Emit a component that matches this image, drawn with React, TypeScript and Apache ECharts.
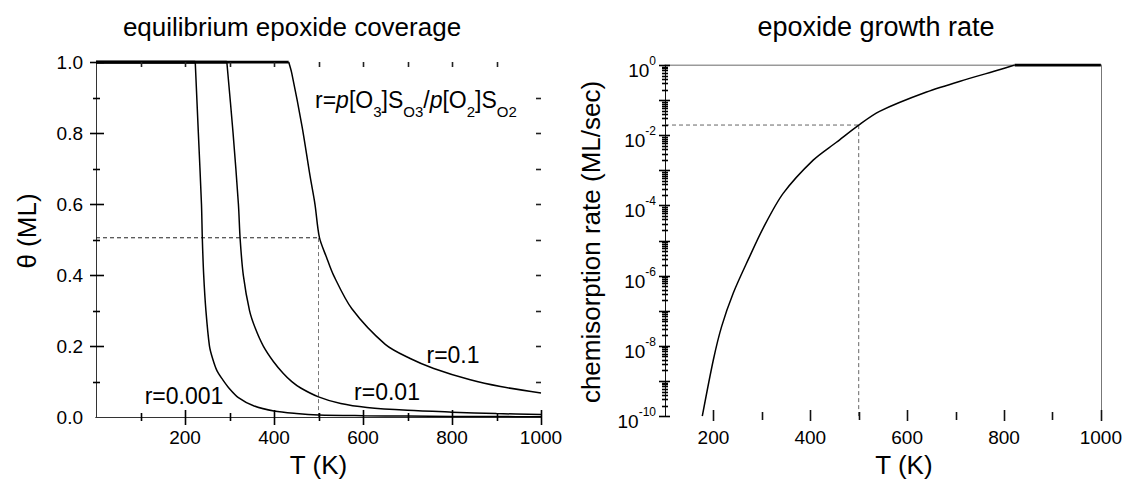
import React, { useEffect, useRef } from 'react';
import * as echarts from 'echarts';

const FONT = '"Liberation Sans", Arial, Helvetica, sans-serif';

// ---------- Left panel: equilibrium epoxide coverage ----------
const tempR0001 = [0, 223, 230, 237, 239, 242, 247, 255, 262, 272, 285, 300, 320, 354, 400, 450, 500, 600, 700, 800, 900, 1000];
const thetaR0001 = [1, 1, 0.8, 0.6, 0.5, 0.4, 0.3, 0.2, 0.165, 0.13, 0.105, 0.08, 0.055, 0.032, 0.017, 0.01, 0.006, 0.004, 0.003, 0.002, 0.0015, 0.001];

const tempR001 = [0, 294, 308, 320, 324, 331, 345, 358, 376, 399, 421, 440, 460, 500, 550, 609, 700, 800, 900, 1000];
const thetaR001 = [1, 1, 0.8, 0.6, 0.5, 0.4, 0.3, 0.25, 0.2, 0.156, 0.123, 0.1, 0.082, 0.057, 0.038, 0.027, 0.019, 0.014, 0.01, 0.007];

const tempR01 = [0, 433, 440, 463, 481, 492, 502, 518, 534, 575, 650, 706, 759, 841, 909, 1000];
const thetaR01 = [1, 1, 0.968, 0.819, 0.679, 0.6, 0.506, 0.45, 0.399, 0.305, 0.205, 0.165, 0.137, 0.105, 0.086, 0.068];

const coverageMarkT = 500;
const coverageMarkTheta = 0.505;

const coverageXMajorTicks = [200, 400, 600, 800, 1000];
const coverageXMinorTicks = [100, 300, 500, 700, 900];
const coverageTopTicks = [100, 200, 300, 400, 500, 600, 700, 800, 900];
const coverageYMajorTicks = [0.2, 0.4, 0.6, 0.8, 1.0];
const coverageYMinorTicks = [0.1, 0.3, 0.5, 0.7, 0.9];
const coverageRightTicks = [0.1, 0.2, 0.3, 0.4, 0.5, 0.6, 0.7, 0.8, 0.9];

// ---------- Right panel: epoxide growth rate ----------
const rateTemps = [177, 200, 217, 241, 272, 303, 344, 406, 454, 500, 543, 640, 722, 792, 822, 1000];
const rateValues = [1e-10, 4.1e-9, 3.6e-8, 3.2e-7, 2.9e-6, 2.3e-5, 2.2e-4, 1.95e-3, 6.3e-3, 1.95e-2, 4.8e-2, 0.17, 0.39, 0.74, 1, 1];

const rateMarkT = 500;
const rateMarkValue = 1.95e-2;

const rateXMajorTicks = [200, 400, 600, 800, 1000];
const rateXMinorTicks = [300, 500, 700, 900];
const rateDecadeExponents = [-10, -9, -8, -7, -6, -5, -4, -3, -2, -1, 0];
const rateMinorMultipliers = [2, 3, 4, 5, 6, 7, 8, 9];

function curve(xi: number, yi: number, xs: number[], ys: number[], width: number, smooth: number) {
  return {
    type: 'line',
    xAxisIndex: xi,
    yAxisIndex: yi,
    showSymbol: false,
    symbol: 'none',
    silent: true,
    smooth,
    lineStyle: { color: '#000', width },
    data: xs.map((x, i) => [x, ys[i]]),
    z: 4,
  };
}

// coverage curve: saturated part (thick, lying on the frame) + falling branch
function coverageCurve(xs: number[], ys: number[]) {
  const k = ys.lastIndexOf(1);
  return [
    curve(0, 0, xs.slice(0, k + 1), ys.slice(0, k + 1), 3, 0),
    curve(0, 0, xs.slice(k), ys.slice(k), 1.5, 0.3),
  ];
}

function dashed(xi: number, yi: number, pts: number[][], color: string) {
  return {
    type: 'line',
    xAxisIndex: xi,
    yAxisIndex: yi,
    showSymbol: false,
    symbol: 'none',
    silent: true,
    lineStyle: { color, width: 1, type: [4, 3] },
    data: pts,
    z: 3,
  };
}

export default function App() {
  const ref = useRef<HTMLDivElement>(null);

  useEffect(() => {
    document.body.style.margin = '0';
    if (!ref.current) return;
    const chart = echarts.init(ref.current, undefined, { renderer: 'svg' });

    const rateMinorTicks: number[] = [];
    rateDecadeExponents.slice(0, -1).forEach((d) => {
      rateMinorMultipliers.forEach((k) => rateMinorTicks.push(d + Math.log10(k)));
    });
    const rateLog = rateValues.map((v) => Math.log10(v));
    const kSat = rateValues.indexOf(1);

    const axisColor = '#111';
    const labelStyle = { fontFamily: FONT, fontSize: 19, color: '#000' };
    const nameStyle = { fontFamily: FONT, fontSize: 26, color: '#000' };

    const texts: any[] = [
      {
        type: 'text',
        x: 292,
        y: 27,
        style: { text: 'equilibrium epoxide coverage', font: `26px ${FONT}`, fill: '#000', align: 'center', verticalAlign: 'middle' },
      },
      {
        type: 'text',
        x: 876,
        y: 27,
        style: { text: 'epoxide growth rate', font: `27px ${FONT}`, fill: '#000', align: 'center', verticalAlign: 'middle' },
      },
      {
        type: 'text',
        x: 27,
        y: 231,
        rotation: Math.PI / 2,
        style: { text: 'θ (ML)', font: `26px ${FONT}`, fill: '#000', align: 'center', verticalAlign: 'middle' },
      },
      {
        type: 'text',
        x: 591,
        y: 242,
        rotation: Math.PI / 2,
        style: { text: 'chemisorption rate (ML/sec)', font: `26px ${FONT}`, fill: '#000', align: 'center', verticalAlign: 'middle' },
      },
      {
        type: 'text',
        x: 184,
        y: 396,
        style: { text: 'r=0.001', font: `23px ${FONT}`, fill: '#000', align: 'center', verticalAlign: 'middle' },
      },
      {
        type: 'text',
        x: 387,
        y: 392,
        style: { text: 'r=0.01', font: `23px ${FONT}`, fill: '#000', align: 'center', verticalAlign: 'middle' },
      },
      {
        type: 'text',
        x: 453,
        y: 355,
        style: { text: 'r=0.1', font: `23px ${FONT}`, fill: '#000', align: 'center', verticalAlign: 'middle' },
      },
      {
        type: 'text',
        x: 315,
        y: 100,
        style: {
          text: '{a|r=}{i|p}{a|[O}{s|3}{a|]S}{s|O3}{a|/}{i|p}{a|[O}{s|2}{a|]S}{s|O2}',
          align: 'left',
          verticalAlign: 'middle',
          fill: '#000',
          rich: {
            a: { fontFamily: FONT, fontSize: 23, lineHeight: 24, verticalAlign: 'top', fill: '#000' },
            i: { fontFamily: FONT, fontSize: 23, lineHeight: 24, fontStyle: 'italic', verticalAlign: 'top', fill: '#000' },
            s: { fontFamily: FONT, fontSize: 15, lineHeight: 15, verticalAlign: 'top', padding: [16, 0, 0, 0], fill: '#000' },
          },
        },
      },
    ];

    const option: any = {
      animation: false,
      backgroundColor: '#fff',
      grid: [
        { left: 96, top: 62, width: 445, height: 357 },
        { left: 665, top: 65, width: 436, height: 352 },
      ],
      xAxis: [
        {
          gridIndex: 0,
          type: 'value',
          min: 0,
          max: 1000,
          interval: 200,
          position: 'bottom',
          axisLine: { lineStyle: { color: axisColor, width: 1 } },
          axisTick: { show: false },
          splitLine: { show: false },
          axisLabel: { ...labelStyle, margin: 11, formatter: (v: number) => (v === 0 ? '' : String(v)) },
          name: 'T (K)',
          nameLocation: 'middle',
          nameGap: 26,
          nameTextStyle: nameStyle,
        },
        {
          gridIndex: 0,
          type: 'value',
          min: 0,
          max: 1000,
          position: 'top',
          axisLine: { lineStyle: { color: '#333', width: 1 } },
          axisTick: { show: false },
          axisLabel: { show: false },
          splitLine: { show: false },
        },
        {
          gridIndex: 1,
          type: 'value',
          min: 100,
          max: 1000,
          interval: 100,
          position: 'bottom',
          axisLine: { lineStyle: { color: '#333', width: 1 } },
          axisTick: { show: false },
          splitLine: { show: false },
          axisLabel: { ...labelStyle, margin: 12, formatter: (v: number) => (v % 200 === 0 ? String(v) : '') },
          name: 'T (K)',
          nameLocation: 'middle',
          nameGap: 28,
          nameTextStyle: { ...nameStyle, padding: [0, 0, 0, 42] },
        },
        {
          gridIndex: 1,
          type: 'value',
          min: 100,
          max: 1000,
          position: 'top',
          axisLine: { lineStyle: { color: '#bdbdbd', width: 1.5 } },
          axisTick: { show: false },
          axisLabel: { show: false },
          splitLine: { show: false },
        },
      ],
      yAxis: [
        {
          gridIndex: 0,
          type: 'value',
          min: 0,
          max: 1,
          interval: 0.2,
          position: 'left',
          axisLine: { show: true, lineStyle: { color: axisColor, width: 1 } },
          axisTick: { show: false },
          splitLine: { show: false },
          axisLabel: { ...labelStyle, margin: 13, formatter: (v: number) => v.toFixed(1) },
        },
        {
          gridIndex: 0,
          type: 'value',
          min: 0,
          max: 1,
          position: 'right',
          axisLine: { show: true, lineStyle: { color: '#333', width: 1 } },
          axisTick: { show: false },
          axisLabel: { show: false },
          splitLine: { show: false },
        },
        {
          gridIndex: 1,
          type: 'value',
          min: -10,
          max: 0,
          interval: 2,
          position: 'left',
          axisLine: { show: true, lineStyle: { color: axisColor, width: 1 } },
          axisTick: { show: false },
          splitLine: { show: false },
          axisLabel: {
            margin: 9,
            formatter: (v: number) => `{b|10}{s|${Math.round(v)}}`,
            rich: {
              b: { fontFamily: FONT, fontSize: 19, lineHeight: 20, color: '#000', verticalAlign: 'top', padding: [6, 0, 0, 0] },
              s: { fontFamily: FONT, fontSize: 12, lineHeight: 12, color: '#000', verticalAlign: 'top' },
            },
          },
        },
        {
          gridIndex: 1,
          type: 'value',
          min: -10,
          max: 0,
          position: 'right',
          axisLine: { show: true, lineStyle: { color: '#777', width: 1 } },
          axisTick: { show: false },
          axisLabel: { show: false },
          splitLine: { show: false },
        },
      ],
      series: [
        ...coverageCurve(tempR0001, thetaR0001),
        ...coverageCurve(tempR001, thetaR001),
        ...coverageCurve(tempR01, thetaR01),
        dashed(0, 0, [[0, coverageMarkTheta], [coverageMarkT, coverageMarkTheta]], '#222'),
        dashed(0, 0, [[coverageMarkT, 0], [coverageMarkT, coverageMarkTheta]], '#777'),
        curve(2, 2, rateTemps.slice(0, kSat + 1), rateLog.slice(0, kSat + 1), 1.5, 0.3),
        curve(2, 2, rateTemps.slice(kSat), rateLog.slice(kSat), 3, 0),
        dashed(2, 2, [[100, Math.log10(rateMarkValue)], [rateMarkT, Math.log10(rateMarkValue)]], '#666'),
        dashed(2, 2, [[rateMarkT, -10], [rateMarkT, Math.log10(rateMarkValue)]], '#666'),
      ],
      graphic: texts,
    };

    chart.setOption(option);

    // tick marks crossing the axis lines, placed through the axes' own scales
    const ticks: any[] = [];
    const addTicks = (
      axisIdx: number,
      dir: 'x' | 'y',
      values: number[],
      fixed: number,
      neg: number,
      pos: number,
      color: string
    ) => {
      values.forEach((v) => {
        const p = chart.convertToPixel(
          { xAxisIndex: axisIdx, yAxisIndex: axisIdx },
          dir === 'x' ? [v, fixed] : [fixed, v]
        ) as number[];
        if (!p) return;
        const px = Math.round(p[0]);
        const py = Math.round(p[1]);
        const shape =
          dir === 'x'
            ? { x: px - 0.3, y: py - neg, width: 1.6, height: neg + pos }
            : { x: px - neg, y: py - 0.3, width: neg + pos, height: 1.6 };
        ticks.push({ type: 'rect', silent: true, z: 100, shape, style: { fill: color } });
      });
    };
    // left panel
    addTicks(0, 'x', coverageXMajorTicks, 0, 7, 8, '#000');
    addTicks(0, 'x', coverageXMinorTicks, 0, 4, 4, '#000');
    addTicks(0, 'x', coverageTopTicks, 1, 0, 5, '#222');
    addTicks(0, 'y', coverageYMajorTicks, 0, 6, 8, '#000');
    addTicks(0, 'y', coverageYMinorTicks, 0, 3, 4, '#000');
    addTicks(0, 'y', coverageRightTicks, 1000, 5, 0, '#222');
    // right panel
    addTicks(2, 'x', rateXMajorTicks, -10, 6, 5, '#111');
    addTicks(2, 'x', rateXMinorTicks, -10, 4, 4, '#111');
    addTicks(2, 'y', rateDecadeExponents, 100, 6, 5, '#000');
    addTicks(2, 'y', rateMinorTicks, 100, 3, 3, '#000');

    chart.setOption({ graphic: [...texts, ...ticks] });

    return () => chart.dispose();
  }, []);

  return <div ref={ref} style={{ width: 1125, height: 483 }} />;
}
